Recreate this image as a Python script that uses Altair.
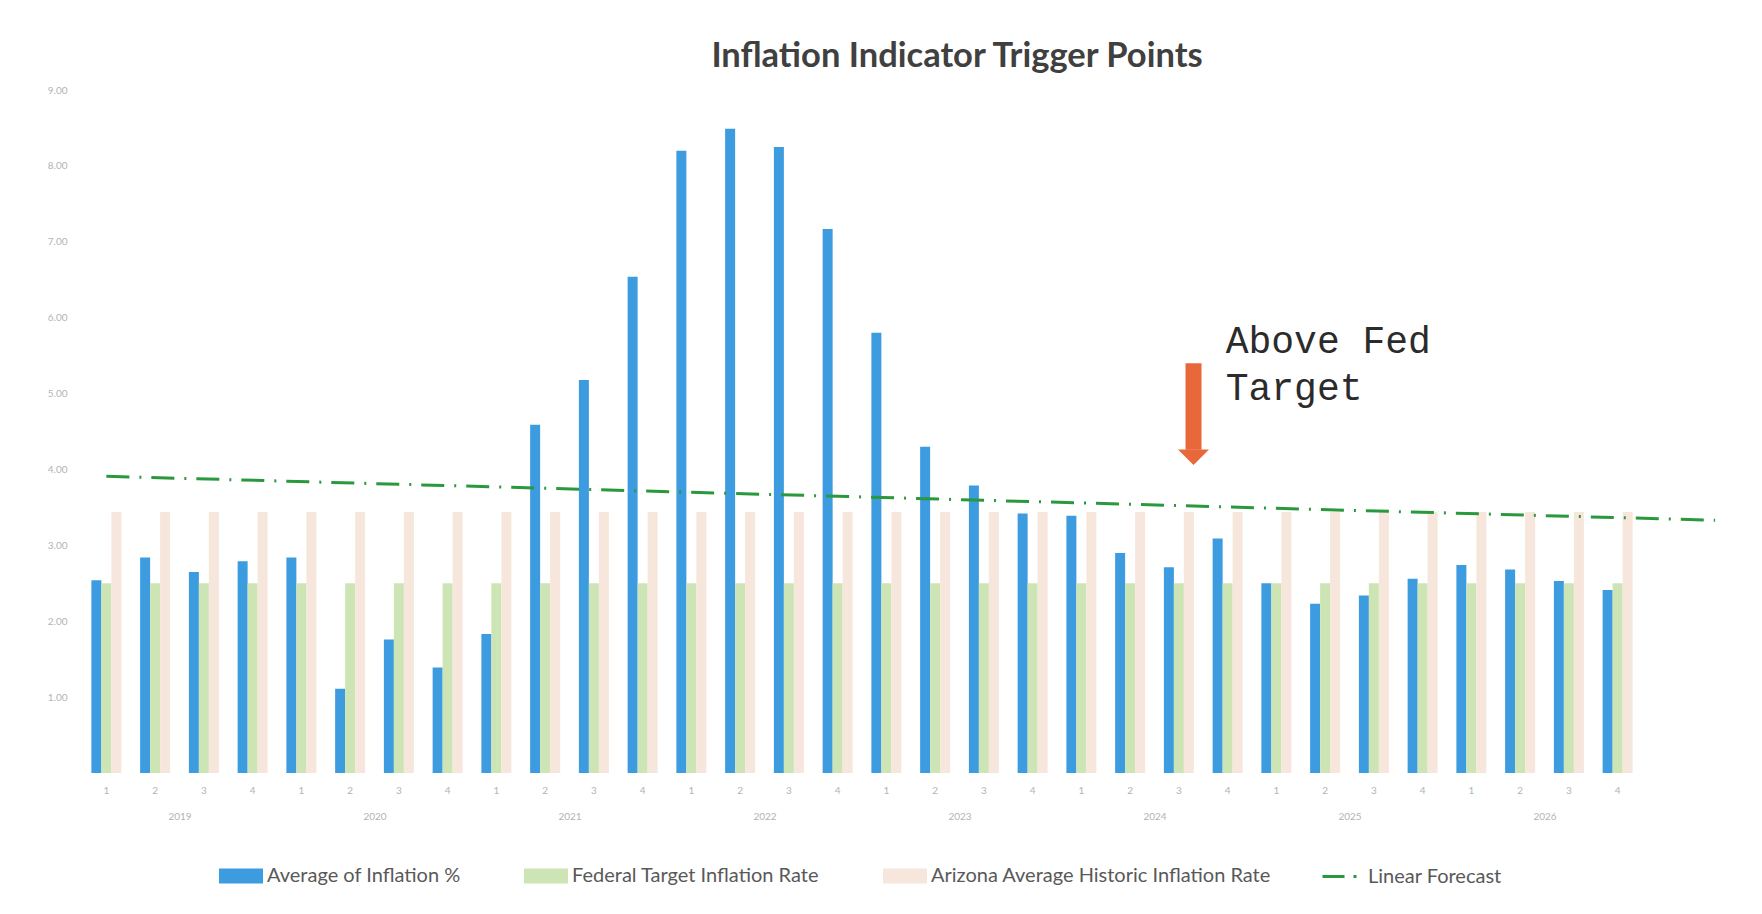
import json
import altair as alt
import pandas as pd

# ---------------- data ----------------
years = ["2019", "2020", "2021", "2022", "2023", "2024", "2025", "2026"]
quarters = ["1", "2", "3", "4"]

inflation = [2.54, 2.84, 2.65, 2.79,
             2.84, 1.11, 1.76, 1.39,
             1.83, 4.59, 5.18, 6.54,
             8.20, 8.49, 8.25, 7.17,
             5.80, 4.30, 3.79, 3.42,
             3.39, 2.90, 2.71, 3.09,
             2.50, 2.23, 2.34, 2.56,
             2.74, 2.68, 2.53, 2.41]
fed_target = [2.50, 2.50, 2.50, 2.50, 2.50, 2.50, 2.50, 2.50,
              2.50, 2.50, 2.50, 2.50, 2.50, 2.50, 2.50, 2.50,
              2.50, 2.50, 2.50, 2.50, 2.50, 2.50, 2.50, 2.50,
              2.50, 2.50, 2.50, 2.50, 2.50, 2.50, 2.50, 2.50]
arizona_avg = [3.44, 3.44, 3.44, 3.44, 3.44, 3.44, 3.44, 3.44,
               3.44, 3.44, 3.44, 3.44, 3.44, 3.44, 3.44, 3.44,
               3.44, 3.44, 3.44, 3.44, 3.44, 3.44, 3.44, 3.44,
               3.44, 3.44, 3.44, 3.44, 3.44, 3.44, 3.44, 3.44]

series_names = ["Average of Inflation %",
                "Federal Target Inflation Rate",
                "Arizona Average Historic Inflation Rate"]
series_colors = ["#3d9be0", "#cde4b5", "#f7e6dc"]

forecast_name = "Linear Forecast"
forecast_period = [0, 33]        # period index (2019 Q1 = 0), projected 2 periods ahead
forecast_value = [3.91, 3.33]

y_tick_values = [1, 2, 3, 4, 5, 6, 7, 8, 9]

annotation_text = "Above Fed\nTarget"
arrow_period = 22.3
arrow_top = 5.40
arrow_shaft_bottom = 4.26
arrow_head_center = 4.16
text_period = 22.96
text_value = 5.54

# ---------------- tables ----------------
periods = [f"{y}-{q}" for y in years for q in quarters]
rows = []
for name, vals in zip(series_names, [inflation, fed_target, arizona_avg]):
    for p, v in zip(periods, vals):
        rows.append({"period": p, "series": name, "value": v})
bar_df = pd.DataFrame(rows)

fc_df = pd.DataFrame({"idx": forecast_period, "value": forecast_value,
                      "series": [forecast_name] * len(forecast_period)})

year_ticks = [i * len(quarters) + (len(quarters) - 1) / 2 for i in range(len(years))]
year_expr = json.dumps(years) + "[floor(datum.value / 4)]"

AXIS_GRAY = "#b3b3b3"
FONT = "Lato"
W, H = 1560, 683
p_inner = 0.385

y_scale = alt.Scale(domain=[0, 9], nice=False)
y_axis = alt.Axis(title=None, values=y_tick_values, format=".2f", grid=False,
                  domain=False, ticks=False, labelPadding=15, labelFontSize=10,
                  labelColor=AXIS_GRAY, labelFont=FONT)

# ---------------- bars ----------------
bars = alt.Chart(bar_df).mark_bar().encode(
    x=alt.X("period:N", sort=periods,
            scale=alt.Scale(paddingInner=p_inner, paddingOuter=p_inner / 2),
            axis=alt.Axis(title=None, labelExpr="split(datum.label, '-')[1]",
                          labelAngle=0, domain=False, ticks=False, grid=False,
                          labelPadding=12, labelFontSize=10, labelColor=AXIS_GRAY,
                          labelFont=FONT)),
    xOffset=alt.XOffset("series:N", sort=series_names,
                        scale=alt.Scale(paddingInner=0, paddingOuter=0)),
    y=alt.Y("value:Q", scale=y_scale, axis=y_axis),
    color=alt.Color("series:N", sort=series_names,
                    scale=alt.Scale(domain=series_names, range=series_colors),
                    legend=alt.Legend(title=None, orient="none", direction="horizontal",
                                      legendX=137, legendY=764,
                                      symbolType="M-1,-0.34H1V0.34H-1Z",
                                      symbolSize=1936, symbolStrokeWidth=0,
                                      symbolOpacity=1,
                                      labelFont=FONT, labelFontSize=20,
                                      labelColor="#595959", labelOffset=4,
                                      columnPadding=63, labelLimit=700, padding=0)),
)

# ---------------- overlay (quantitative period index) ----------------
xq = alt.X("idx:Q", scale=alt.Scale(domain=[-0.5, len(periods) - 0.5], nice=False, zero=False),
           axis=alt.Axis(orient="bottom", title=None, values=year_ticks, labelExpr=year_expr,
                         domain=False, ticks=False, grid=False, labelPadding=38,
                         labelFontSize=10, labelColor=AXIS_GRAY, labelFont=FONT))

forecast = alt.Chart(fc_df).mark_line(strokeWidth=3, strokeDash=[23, 10, 2, 10], clip=False).encode(
    x=xq,
    y=alt.Y("value:Q", scale=y_scale, axis=y_axis),
    stroke=alt.Stroke("series:N", scale=alt.Scale(domain=[forecast_name], range=["#2a983c"]),
                      legend=alt.Legend(title=None, orient="none", direction="horizontal",
                                        legendX=1239, legendY=766,
                                        symbolType="stroke", symbolSize=1444,
                                        symbolStrokeWidth=3, symbolDash=[22, 9, 3, 30],
                                        labelFont=FONT, labelFontSize=20,
                                        labelColor="#595959", labelOffset=6,
                                        labelLimit=600, padding=0)),
)

ann_df = pd.DataFrame({"idx": [arrow_period], "value": [arrow_top], "bottom": [arrow_shaft_bottom],
                       "head": [arrow_head_center]})
shaft = alt.Chart(ann_df).mark_rule(strokeWidth=16, color="#e9683b", strokeCap="butt").encode(
    x=alt.X("idx:Q"), y=alt.Y("value:Q", scale=y_scale, axis=y_axis), y2="bottom:Q")
head = alt.Chart(ann_df).transform_calculate(value="datum.head").mark_point(
    shape="M-1,-0.5L1,-0.5L0,0.5Z", size=961, filled=True,
    color="#e9683b", opacity=1, strokeWidth=0).encode(
    x=alt.X("idx:Q"), y=alt.Y("value:Q", scale=y_scale, axis=y_axis))

txt_df = pd.DataFrame({"idx": [text_period], "value": [text_value], "label": [annotation_text]})
label = alt.Chart(txt_df).mark_text(align="left", baseline="alphabetic", font="Liberation Mono",
                                    fontSize=38, lineHeight=47, lineBreak="\n",
                                    color="#2b2b2b").encode(
    x=alt.X("idx:Q"), y=alt.Y("value:Q", scale=y_scale, axis=y_axis), text="label:N")

overlay = alt.layer(forecast, shaft, head, label)

chart = alt.layer(bars, overlay).resolve_scale(x="independent").properties(
    width=W, height=H,
    background="white",
    title=alt.TitleParams("Inflation Indicator Trigger Points", fontSize=34.5, font=FONT,
                          fontWeight="bold", color="#404040", anchor="middle",
                          dx=95, offset=11),
    autosize=alt.AutoSizeParams(type="none"),
    padding={"left": 74, "top": 82, "right": 112, "bottom": 133},
).configure_view(stroke=None)

chart.save("out.html", embed_options={"renderer": "svg", "actions": False})
